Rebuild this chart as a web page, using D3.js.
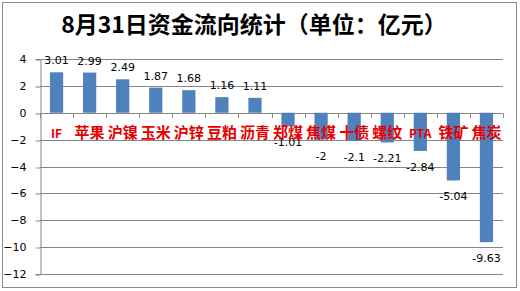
<!DOCTYPE html>
<html>
<head>
<meta charset="utf-8">
<script src="https://cdn.jsdelivr.net/npm/d3@7"></script>
<style>
  body { margin: 0; background: #fff; }
  svg { display: block; }
</style>
</head>
<body>
<div id="vis"></div>
<script>
// data
const categories = ["IF", "苹果", "沪镍", "玉米", "沪锌", "豆粕", "沥青", "郑煤", "焦煤", "十债", "螺纹", "PTA", "铁矿", "焦炭"];
const values = [3.01, 2.99, 2.49, 1.87, 1.68, 1.16, 1.11, -1.01, -2, -2.1, -2.21, -2.84, -5.04, -9.63];
const yTicks = [4, 2, 0, -2, -4, -6, -8, -10, -12];

const WIDTH = 520, HEIGHT = 291;
const PLOT = {left: 40, right: 503, top: 59, bottom: 274};

const svg = d3.select("#vis").append("svg")
    .attr("width", WIDTH)
    .attr("height", HEIGHT);

// chart border
svg.append("rect")
    .attr("x", 2.5).attr("y", 2.5)
    .attr("width", 514).attr("height", 285)
    .attr("fill", "#fff")
    .attr("stroke", "#8c8c8c");

const x = d3.scaleBand()
    .domain(categories)
    .range([PLOT.left, PLOT.right])
    .paddingInner(0.6)
    .paddingOuter(0.3);

const y = d3.scaleLinear()
    .domain([-12, 4])
    .range([PLOT.bottom, PLOT.top]);

// gridlines
svg.append("g")
    .selectAll("line")
    .data(yTicks)
    .enter().append("line")
    .attr("x1", PLOT.left).attr("x2", PLOT.right)
    .attr("y1", d => Math.round(y(d)) + 0.5)
    .attr("y2", d => Math.round(y(d)) + 0.5)
    .attr("stroke", "#868686");

// y axis
const yAxis = svg.append("g")
    .attr("transform", "translate(" + (PLOT.left + 0.5) + ",0)")
    .call(d3.axisLeft(y).tickValues(yTicks).tickSize(5).tickPadding(9));
yAxis.select(".domain").attr("stroke", "#868686");
yAxis.selectAll(".tick line").attr("stroke", "#868686")
    .attr("transform", d => "translate(0," + (Math.round(y(d)) + 0.5 - y(d)) + ")");
yAxis.selectAll("text")
    .attr("font-family", "'DejaVu Sans', sans-serif")
    .attr("font-size", "11px")
    .attr("fill", "#000");

// bars
svg.append("g")
    .selectAll("rect")
    .data(values)
    .enter().append("rect")
    .attr("x", (d, i) => x(categories[i]))
    .attr("width", x.bandwidth())
    .attr("y", d => y(Math.max(0, d)))
    .attr("height", d => Math.abs(y(d) - y(0)))
    .attr("fill", "#4f81bd");

// x axis on zero line, tick marks between categories
const bounds = d3.range(categories.length + 1).map(i => PLOT.left + i * x.step());
svg.append("g")
    .selectAll("line")
    .data(bounds)
    .enter().append("line")
    .attr("x1", d => Math.round(d) + 0.5).attr("x2", d => Math.round(d) + 0.5)
    .attr("y1", Math.round(y(0)) + 0.5).attr("y2", Math.round(y(0)) + 5)
    .attr("stroke", "#868686");

// value labels
svg.append("g")
    .selectAll("text")
    .data(values)
    .enter().append("text")
    .attr("x", (d, i) => x(categories[i]) + x.bandwidth() / 2)
    .attr("y", d => d >= 0 ? y(d) - 8 : y(d) + 20)
    .attr("text-anchor", "middle")
    .attr("font-family", "'DejaVu Sans', sans-serif")
    .attr("font-size", "11px")
    .attr("fill", "#000")
    .text(d => d);

// category labels
svg.append("g")
    .selectAll("text")
    .data(categories)
    .enter().append("text")
    .attr("x", d => x(d) + x.bandwidth() / 2)
    .attr("y", 138)
    .attr("text-anchor", "middle")
    .attr("font-family", "'Noto Sans CJK SC', sans-serif")
    .attr("font-weight", "bold")
    .attr("font-size", d => /^[A-Z]+$/.test(d) ? "12px" : "15px")
    .attr("fill", "#e60000")
    .text(d => d);

// title
svg.append("text")
    .attr("x", 254)
    .attr("y", 33)
    .attr("text-anchor", "middle")
    .attr("font-family", "'Noto Sans CJK SC', sans-serif")
    .attr("font-weight", "bold")
    .attr("font-size", "23px")
    .attr("fill", "#000")
    .text("8月31日资金流向统计（单位：亿元）");
</script>
</body>
</html>
